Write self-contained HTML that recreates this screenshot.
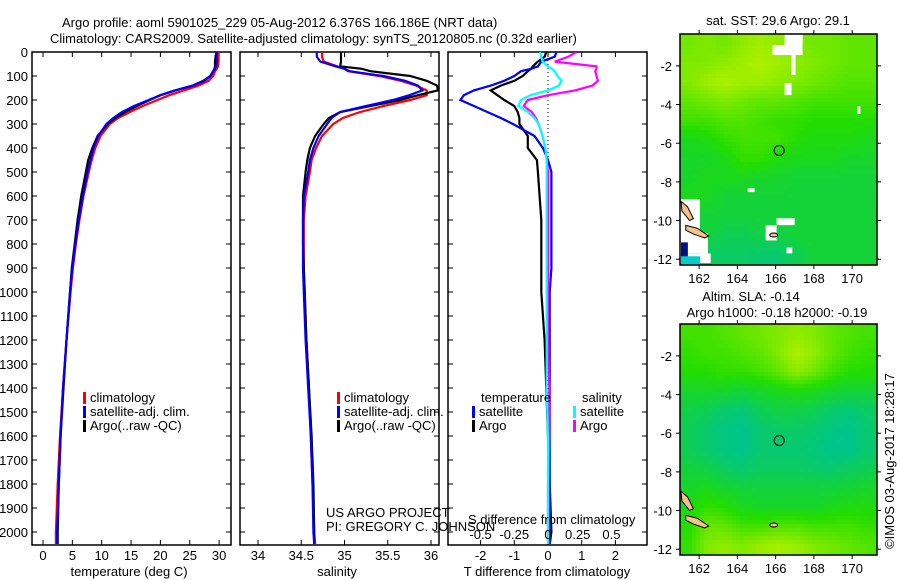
<!DOCTYPE html>
<html><head><meta charset="utf-8">
<style>
html,body{margin:0;padding:0;background:#fff;}
svg{display:block;font-family:"Liberation Sans",sans-serif;}
text{font-size:13px;fill:#000;}
</style></head>
<body>
<svg id="fig" width="900" height="580" viewBox="0 0 900 580" xmlns="http://www.w3.org/2000/svg">
<defs>
<clipPath id="c1"><rect x="32" y="52" width="199" height="493"/></clipPath>
<clipPath id="c2"><rect x="240" y="52" width="199" height="493"/></clipPath>
<clipPath id="c3"><rect x="448" y="52" width="199" height="493"/></clipPath>
</defs>
<text x="62" y="27">Argo profile: aoml 5901025_229 05-Aug-2012 6.376S 166.186E (NRT data)</text>
<text x="50" y="43">Climatology: CARS2009. Satellite-adjusted climatology: synTS_20120805.nc (0.32d earlier)</text>
<g id="p1"></g>
<g id="p2"></g>
<g id="p3"></g>
<g id="m1"></g>
<g id="m2"></g>
<text x="778" y="25" text-anchor="middle">sat. SST: 29.6 Argo: 29.1</text>
<text x="751" y="301" text-anchor="middle">Altim. SLA: -0.14</text>
<text x="777" y="317" text-anchor="middle">Argo h1000: -0.18 h2000: -0.19</text>
<text transform="translate(894,461) rotate(-90)" text-anchor="middle">©IMOS 03-Aug-2017 18:28:17</text>
</svg>
<script>
const depths=[0,20,40,60,70,80,100,120,140,160,180,200,225,250,275,300,350,400,450,500,600,700,800,900,1000,1200,1400,1600,1800,2000,2050];
const tempSat=[29.6,29.6,29.6,29.5,29.3,29,28.5,27.5,25.5,22.5,20,18,15.5,13.5,12,10.8,9.4,8.6,8.1,7.6,6.8,6.1,5.5,5.0,4.6,4.0,3.4,3.0,2.7,2.4,2.4];
const tempClim=[29.9,29.9,29.9,29.8,29.6,29.3,29,28.2,26.5,24,21.5,19.5,17,14.8,12.8,11.4,9.8,8.9,8.3,7.8,6.9,6.2,5.6,5.1,4.7,4.0,3.4,2.9,2.5,2.2,2.2];
const tempArgo=[29.5,29.4,29.3,29.3,29.2,29,28.5,27.3,25.5,22.5,20,18.2,16,14,12.3,11,9.3,8.4,7.7,7.3,6.5,5.9,5.4,4.9,4.6,4.0,3.5,3.0,2.7,2.5,2.5];
const salSat=[34.68,34.68,34.72,34.9,35.0,35.06,35.45,35.7,35.85,35.9,35.75,35.56,35.25,34.95,34.85,34.8,34.7,34.64,34.6,34.58,34.53,34.52,34.52,34.52,34.53,34.55,34.58,34.61,34.63,34.64,34.65];
const salClim=[34.74,34.74,34.76,34.92,35.0,35.04,35.4,35.65,35.83,35.95,35.95,35.76,35.45,35.18,34.98,34.87,34.74,34.67,34.62,34.6,34.55,34.53,34.53,34.53,34.54,34.56,34.59,34.61,34.63,34.65,34.66];
const salArgo=[34.96,34.96,34.96,34.95,35.2,35.3,35.76,35.95,36.07,36.08,35.85,35.64,35.3,34.95,34.82,34.76,34.66,34.6,34.57,34.55,34.52,34.52,34.52,34.53,34.54,34.56,34.59,34.62,34.64,34.65,34.65];
const dTSat=[0.25,0.2,-0.2,-0.3,-0.5,-0.8,-1.0,-1.3,-1.7,-2.2,-2.5,-2.6,-2.2,-1.8,-1.4,-1.04,-0.4,-0.15,0.0,0.1,0.1,0.1,0.1,0.1,0.05,0.05,0.05,0.05,0.05,0.05,0.05];
const dTArgo=[-0.05,-0.1,-0.3,-0.45,-0.5,-0.6,-0.75,-1.0,-1.4,-1.7,-1.5,-1.3,-1.0,-0.9,-0.85,-0.85,-0.6,-0.6,-0.33,-0.3,-0.25,-0.2,-0.2,-0.2,-0.2,-0.1,-0.05,0,0.05,0.1,0.05];
const dSSat=[-0.06,-0.05,-0.04,0.0,0.03,0.05,0.07,0.1,0.08,0.0,-0.13,-0.2,-0.22,-0.15,-0.1,-0.07,-0.04,-0.02,-0.01,-0.01,-0.01,-0.01,-0.01,-0.01,-0.01,-0.01,-0.01,0,0,0,0];
const dSArgo=[0.21,0.15,0.05,0.36,0.36,0.35,0.36,0.37,0.33,0.2,0.0,-0.15,-0.18,-0.12,-0.09,-0.07,-0.04,-0.02,-0.01,0,0,0,0,0,0,0,0.01,0.01,0,0,0];
const depthTicks=[0,100,200,300,400,500,600,700,800,900,1000,1100,1200,1300,1400,1500,1600,1700,1800,1900,2000];
const tempTicks=[0,5,10,15,20,25,30];
const salTicks=[34,34.5,35,35.5,36];
const dTTicks=[-2,-1,0,1,2];
const dSTicks=[-0.5,-0.25,0,0.25,0.5];
const sstGrid=[
[.75,.8,.75,.85,.9,.85,.8,.75,.75,.7,.7],
[.8,.8,.85,.9,.95,.9,.85,.8,.75,.7,.7],
[.8,.9,.95,.9,.9,.85,.8,.75,.7,.65,.65],
[.7,.75,.8,.75,.7,.7,.65,.6,.6,.6,.6],
[.6,.6,.65,.65,.6,.55,.55,.5,.5,.5,.5],
[.4,.45,.55,.6,.6,.6,.5,.45,.45,.45,.4],
[.35,.35,.4,.55,.55,.45,.4,.4,.4,.35,.35],
[.35,.4,.4,.4,.35,.35,.3,.3,.3,.3,.3],
[.4,.4,.3,.3,.3,.3,.3,.3,.3,.3,.3],
[.3,.3,.3,.3,.3,.3,.3,.3,.3,.3,.3],
[.25,.3,.2,.2,.25,.25,.3,.3,.3,.3,.3],
[.15,.15,.15,.15,.1,.1,.2,.3,.3,.3,.3]];
const slaGrid=[
[.6,.6,.65,.7,.75,.8,.85,.8,.7,.65,.6],
[.55,.6,.6,.65,.7,.8,.95,.85,.7,.6,.55],
[.5,.5,.55,.55,.6,.7,.85,.75,.6,.5,.5],
[.35,.35,.35,.3,.35,.4,.45,.4,.35,.3,.3],
[.25,.2,.12,.08,.2,.25,.25,.22,.12,.08,.15],
[.2,.12,.04,0,.1,.15,.15,.1,.04,0,.1],
[.2,.12,.04,0,.1,.1,.1,.06,0,0,.1],
[.28,.25,.15,.1,.15,.15,.15,.12,.1,.15,.2],
[.35,.4,.32,.28,.28,.28,.28,.28,.28,.3,.35],
[.4,.55,.5,.4,.35,.35,.35,.35,.4,.45,.45],
[.5,.72,.7,.6,.6,.65,.65,.6,.6,.6,.55],
[.55,.8,.85,.8,.88,.92,.88,.8,.75,.7,.65]];
const lonTicks=[162,164,166,168,170];
const latTicks=[-2,-4,-6,-8,-10,-12];
const floatLon=166.186, floatLat=-6.376;

const NS='http://www.w3.org/2000/svg';
function mk(parent,tag,attrs,txt){const e=document.createElementNS(NS,tag);for(const k in attrs)e.setAttribute(k,attrs[k]);if(txt!==undefined)e.textContent=txt;parent.appendChild(e);return e;}
const TOP=52,BOT=545;
const yD=d=>TOP+d*0.24;
function panel(g,x0,x1,xs,ticks,fmt,clip,withDepthLabels,labelY){
  const fr=mk(g,'rect',{x:x0,y:TOP,width:x1-x0,height:BOT-TOP,fill:'none',stroke:'#000','stroke-width':1.5});
  
  
  depthTicks.forEach(d=>{
    mk(g,'line',{x1:x0,x2:x0+5,y1:yD(d),y2:yD(d),stroke:'#000'});
    mk(g,'line',{x1:x1-5,x2:x1,y1:yD(d),y2:yD(d),stroke:'#000'});
    if(withDepthLabels){const t=mk(g,'text',{x:x0-4,y:yD(d)+5,'text-anchor':'end'},d);
      
      }
  });
  ticks.forEach(v=>{
    const x=xs(v);
    mk(g,'line',{x1:x,x2:x,y1:TOP,y2:TOP+5,stroke:'#000'});
    mk(g,'line',{x1:x,x2:x,y1:BOT-5,y2:BOT,stroke:'#000'});
    if(labelY){const t=mk(g,'text',{x:x,y:labelY,'text-anchor':'middle'},fmt(v));
      
      }
  });
}
function series(g,vals,xs,color,clip,name){
  const pts=vals.map((v,i)=>xs(v).toFixed(1)+','+yD(depths[i]).toFixed(1)).join(' ');
  const p=mk(g,'polyline',{points:pts,fill:'none',stroke:color,'stroke-width':2.2,'clip-path':'url(#'+clip+')'});
  
  
}
function legend(g,x,y,color,label,name){
  mk(g,'rect',{x:x,y:y-10,width:3,height:12,fill:color});
  const t=mk(g,'text',{x:x+7,y:y},label);
  
  
}
// panel 1
const p1=document.getElementById('p1');
const xT=v=>43+v*5.87;
panel(p1,32,231,xT,tempTicks,v=>v,'c1',true,560);
series(p1,tempClim,xT,'#f00','c1','temp-climatology-line');
series(p1,tempArgo,xT,'#000','c1','temp-argo-line');
series(p1,tempSat,xT,'#00f','c1','temp-satellite-line');
legend(p1,83,402,'#f00','climatology','legend-climatology');
legend(p1,83,416,'#00f','satellite-adj. clim.','legend-satellite');
legend(p1,83,430,'#000','Argo(..raw -QC)','legend-argo');
let t=mk(p1,'text',{x:129,y:576,'text-anchor':'middle'},'temperature (deg C)');


// panel 2
const p2=document.getElementById('p2');
const xS=v=>258+(v-34)*86.5;
panel(p2,240,439,xS,salTicks,v=>v,'c2',false,560);
series(p2,salClim,xS,'#f00','c2','sal-climatology-line');
series(p2,salArgo,xS,'#000','c2','sal-argo-line');
series(p2,salSat,xS,'#00f','c2','sal-satellite-line');
legend(p2,337,402,'#f00','climatology','legend-climatology');
legend(p2,337,416,'#00f','satellite-adj. clim.','legend-satellite');
legend(p2,337,430,'#000','Argo(..raw -QC)','legend-argo');
t=mk(p2,'text',{x:326,y:517},'US ARGO PROJECT');


t=mk(p2,'text',{x:326,y:531},'PI: GREGORY C. JOHNSON');


t=mk(p2,'text',{x:337,y:576,'text-anchor':'middle'},'salinity');


// panel 3
const p3=document.getElementById('p3');
const xDT=v=>548+v*33.7;
const xDS=v=>548+v*4*33.7;
panel(p3,448,647,xDT,dTTicks,v=>v,'c3',false,560);
mk(p3,'line',{x1:548,x2:548,y1:TOP,y2:BOT,stroke:'#000','stroke-dasharray':'1,3'});
series(p3,dTArgo,xDT,'#000','c3','tdiff-argo-line');
series(p3,dTSat,xDT,'#00f','c3','tdiff-satellite-line');
series(p3,dSArgo,xDS,'#f0f','c3','sdiff-argo-line');
series(p3,dSSat,xDS,'#0ff','c3','sdiff-satellite-line');
dSTicks.forEach(v=>{const tt=mk(p3,'text',{x:xDS(v)-(v>0?4:0),y:539,'text-anchor':'middle'},v);
  
  });
t=mk(p3,'text',{x:468,y:524},'S difference from climatology');


t=mk(p3,'text',{x:547,y:576,'text-anchor':'middle'},'T difference from climatology');


t=mk(p3,'text',{x:481,y:402},'temperature');


t=mk(p3,'text',{x:582,y:402},'salinity');


legend(p3,472,416,'#00f','satellite','legend-t-satellite');
legend(p3,472,430,'#000','Argo','legend-t-argo');
legend(p3,573,416,'#0ff','satellite','legend-s-satellite');
legend(p3,573,430,'#f0f','Argo','legend-s-argo');
// maps
function col(v){
  const stops=[[0,[0,196,140]],[0.5,[34,221,0]],[1,[190,242,0]]];
  v=Math.max(0,Math.min(1,v));
  let a=stops[0],b=stops[1];if(v>0.5){a=stops[1];b=stops[2];}
  const f=(v-a[0])/(b[0]-a[0]);
  const c=a[1].map((x,i)=>Math.round(x+(b[1][i]-x)*f));
  return 'rgb('+c.join(',')+')';
}
function sample(grid,r,c){
  const R=grid.length,C=grid[0].length;
  r=Math.max(0,Math.min(R-1,r));c=Math.max(0,Math.min(C-1,c));
  const r0=Math.floor(r),c0=Math.floor(c),r1=Math.min(R-1,r0+1),c1=Math.min(C-1,c0+1),fr=r-r0,fc=c-c0;
  return grid[r0][c0]*(1-fr)*(1-fc)+grid[r0][c1]*(1-fr)*fc+grid[r1][c0]*fr*(1-fc)+grid[r1][c1]*fr*fc;
}
function map(id,y0,grid,whites){
  const g=document.getElementById(id);
  const x0=680,w=197,h=231,lon0=161.0,lon1=171.3,lat0=-0.35,lat1=-12.3;
  const mx=lo=>x0+(lo-lon0)/(lon1-lon0)*w, my=la=>y0+(la-lat0)/(lat1-lat0)*h;
  const rows=grid.length,cols=grid[0].length,px=4;
  for(let yy=0;yy<h;yy+=px){for(let xx=0;xx<w;xx+=px){
    const v=sample(grid,(yy+px/2)/h*rows-0.5,(xx+px/2)/w*cols-0.5);
    const cell=mk(g,'rect',{x:x0+xx,y:y0+yy,width:Math.min(px,w-xx)+0.3,height:Math.min(px,h-yy)+0.3,fill:col(v)});
    
    
  }}
  whites.forEach(wr=>mk(g,'rect',{x:mx(wr[0]),y:my(wr[1]),width:wr[2]*19.2,height:wr[3]*19.3,fill:wr[4]||'#fff'}));
  mk(g,'path',{d:`M${mx(161.05)},${my(-9.0)} L${mx(161.4)},${my(-9.3)} L${mx(161.7)},${my(-9.9)} L${mx(161.5)},${my(-10.0)} L${mx(161.1)},${my(-9.5)} Z`,fill:'#f5c08a',stroke:'#000'});
  mk(g,'path',{d:`M${mx(161.3)},${my(-10.25)} L${mx(161.9)},${my(-10.4)} L${mx(162.5)},${my(-10.8)} L${mx(162.3)},${my(-10.9)} L${mx(161.7)},${my(-10.7)} L${mx(161.3)},${my(-10.5)} Z`,fill:'#f5c08a',stroke:'#000'});
  mk(g,'ellipse',{cx:mx(165.9),cy:my(-10.75),rx:4,ry:2,fill:'#f5c08a',stroke:'#000'});
  const fr=mk(g,'rect',{x:x0,y:y0,width:w,height:h,fill:'none',stroke:'#000','stroke-width':1.5});
  
  
  lonTicks.forEach(lo=>{mk(g,'line',{x1:mx(lo),x2:mx(lo),y1:y0-4,y2:y0,stroke:'#000'});
    mk(g,'line',{x1:mx(lo),x2:mx(lo),y1:y0+h,y2:y0+h+4,stroke:'#000'});
    const tt=mk(g,'text',{x:mx(lo),y:y0+h+18,'text-anchor':'middle'},lo);
    
    });
  latTicks.forEach(la=>{mk(g,'line',{x1:x0-4,x2:x0,y1:my(la),y2:my(la),stroke:'#000'});
    mk(g,'line',{x1:x0+w,x2:x0+w+4,y1:my(la),y2:my(la),stroke:'#000'});
    const tt=mk(g,'text',{x:x0-8,y:my(la)+5,'text-anchor':'end'},la);
    
    });
  const c=mk(g,'circle',{cx:mx(floatLon),cy:my(floatLat),r:5,fill:'none',stroke:'#000'});
  
  
}
map('m1',34,sstGrid,[[166.47,-0.35,0.94,0.57],[165.84,-0.92,1.56,0.52],[166.83,-1.44,0.21,1.04],[166.47,-2.89,0.36,0.62],[170.27,-4.08,0.16,0.41],[164.54,-8.33,0.36,0.2],
 [161.0,-8.9,1.04,2.8],[162.04,-10.66,0.42,1.25],[161.0,-11.7,1.6,0.5],[165.48,-10.25,0.57,0.78],[166.05,-9.88,0.94,0.36],[166.57,-11.4,0.3,0.3],
 [161.05,-11.13,0.36,0.73,'#001080'],[161.05,-11.85,1.0,0.47,'#00ccc8']]);
map('m2',324,slaGrid,[]);
</script>
</body></html>
